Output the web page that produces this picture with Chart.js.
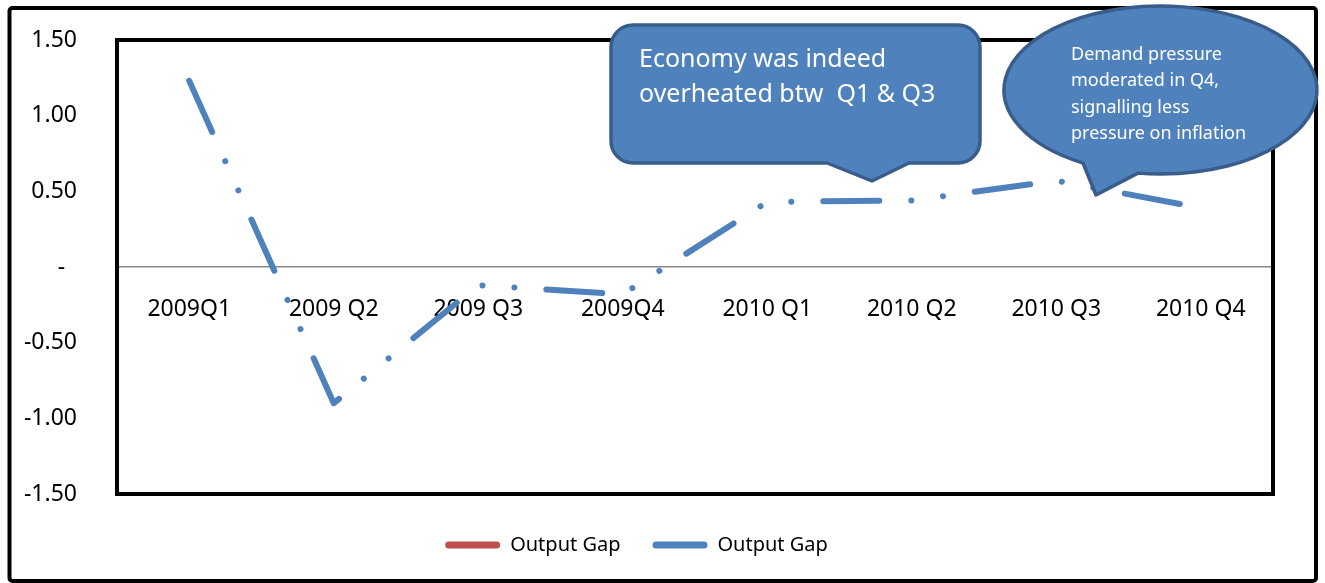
<!DOCTYPE html>
<html>
<head>
<meta charset="utf-8">
<script src="https://cdn.jsdelivr.net/npm/chart.js@4.4.1/dist/chart.umd.min.js"></script>
<style>
    html, body { margin: 0; padding: 0; background: #fff; }
    #wrap { width: 1325px; height: 583px; }
</style>
</head>
<body>
<div id="wrap"><canvas id="gapChart" width="1325" height="583"></canvas></div>
<script>
// Chart data
const quarters = ['2009Q1', '2009 Q2', '2009 Q3', '2009Q4', '2010 Q1', '2010 Q2', '2010 Q3', '2010 Q4'];
const outputGap = [1.23, -0.90, -0.12, -0.18, 0.43, 0.44, 0.57, 0.39];
const outputGapRed = []; // second series only shows up in the legend
const yMin = -1.5;
const yMax = 1.5;
const yStep = 0.5;

const callout1Lines = ['Economy was indeed', 'overheated btw  Q1 & Q3'];
const callout2Lines = ['Demand pressure', 'moderated in Q4,', 'signalling less', 'pressure on inflation'];

const BLUE = '#4F81BD';
const RED = '#C0504D';
const CALLOUT_EDGE = '#385D8A';

Chart.defaults.font.family = "'Noto Sans', sans-serif";
Chart.defaults.color = '#000';

// Outer frame + plot area frame
const framePlugin = {
    id: 'frames',
    beforeDraw(chart) {
        const ctx = chart.ctx;
        ctx.save();
        ctx.strokeStyle = '#000';
        ctx.lineWidth = 4;
        ctx.beginPath();
        ctx.roundRect(9.5, 8, 1306.5, 573, 3);
        ctx.stroke();
        ctx.restore();
    },
    beforeDatasetsDraw(chart) {
        const {ctx, chartArea} = chart;
        ctx.save();
        ctx.strokeStyle = '#000';
        ctx.lineWidth = 4;
        ctx.strokeRect(chartArea.left, chartArea.top,
            chartArea.right - chartArea.left, chartArea.bottom - chartArea.top);
        ctx.restore();
    }
};

// Speech bubbles drawn on top of everything
const calloutPlugin = {
    id: 'callouts',
    afterDraw(chart) {
        const ctx = chart.ctx;
        ctx.save();
        ctx.fillStyle = BLUE;
        ctx.strokeStyle = CALLOUT_EDGE;
        ctx.lineWidth = 3.5;
        ctx.lineJoin = 'round';

        // rounded rectangle with a tail
        const l = 611, t = 25, r = 980, b = 163, rad = 22;
        ctx.beginPath();
        ctx.moveTo(l + rad, t);
        ctx.lineTo(r - rad, t);
        ctx.arcTo(r, t, r, t + rad, rad);
        ctx.lineTo(r, b - rad);
        ctx.arcTo(r, b, r - rad, b, rad);
        ctx.lineTo(909, b);
        ctx.lineTo(872, 181);
        ctx.lineTo(827, b);
        ctx.lineTo(l + rad, b);
        ctx.arcTo(l, b, l, b - rad, rad);
        ctx.lineTo(l, t + rad);
        ctx.arcTo(l, t, l + rad, t, rad);
        ctx.closePath();
        ctx.fill();
        ctx.stroke();

        // ellipse with a tail
        const cx = 1160.5, cy = 90, rx = 156.5, ry = 84;
        const aLeft = Math.acos(-77.5 / rx);
        const aRight = Math.acos(-22.5 / rx);
        ctx.beginPath();
        ctx.ellipse(cx, cy, rx, ry, 0, aRight, aLeft, true);
        ctx.lineTo(1096, 195);
        ctx.closePath();
        ctx.fill();
        ctx.stroke();

        // texts
        ctx.fillStyle = '#fff';
        ctx.textAlign = 'left';
        ctx.textBaseline = 'middle';
        ctx.font = "25px 'Noto Sans', sans-serif";
        callout1Lines.forEach((line, i) => ctx.fillText(line, 639, 60 + i * 35));
        ctx.font = "18px 'Noto Sans', sans-serif";
        callout2Lines.forEach((line, i) => ctx.fillText(line, 1071, 54.5 + i * 26.5));
        ctx.restore();
    }
};

function createChart() {
    const ctx = document.getElementById('gapChart').getContext('2d');

    new Chart(ctx, {
        type: 'line',
        data: {
            labels: quarters,
            datasets: [{
                label: 'Output Gap',
                data: outputGapRed,
                borderColor: RED,
                backgroundColor: RED,
                borderWidth: 6,
                pointRadius: 0
            }, {
                label: 'Output Gap',
                data: outputGap,
                borderColor: BLUE,
                backgroundColor: BLUE,
                borderWidth: 6,
                borderCapStyle: 'round',
                borderJoinStyle: 'round',
                borderDash: [56, 32, 0.01, 32, 0.01, 32],
                tension: 0,
                fill: false,
                pointRadius: 0,
                pointHoverRadius: 0
            }]
        },
        options: {
            responsive: false,
            animation: false,
            layout: {
                padding: { top: 40, right: 52, bottom: 18, left: 0 }
            },
            plugins: {
                tooltip: { enabled: false },
                legend: {
                    position: 'bottom',
                    title: {
                        display: true,
                        text: '',
                        padding: 0,
                        font: { size: 9, lineHeight: 1 }
                    },
                    labels: {
                        boxWidth: 55,
                        boxHeight: 7,
                        padding: 32,
                        color: '#000',
                        useBorderRadius: true,
                        borderRadius: 3.5,
                        font: { size: 20 },
                        generateLabels: function (chart) {
                            return chart.data.datasets.map((ds, i) => ({
                                text: ds.label,
                                fillStyle: ds.borderColor,
                                strokeStyle: ds.borderColor,
                                lineWidth: 0,
                                borderRadius: 3.5,
                                hidden: false,
                                datasetIndex: i,
                                fontColor: '#000'
                            }));
                        }
                    }
                }
            },
            scales: {
                x: {
                    type: 'category',
                    position: { y: 0 },
                    offset: true,
                    grid: { display: false },
                    border: { display: true, color: '#868686', width: 1.5 },
                    ticks: {
                        color: '#000',
                        padding: 21,
                        maxRotation: 0,
                        autoSkip: false,
                        font: { size: 23 }
                    }
                },
                y: {
                    min: yMin,
                    max: yMax,
                    grid: { display: false },
                    border: { display: false },
                    afterFit: function (scale) {
                        scale.width = 117;
                        // tick padding is only meant horizontally here
                        scale.paddingTop = 14;
                        scale.paddingBottom = 14;
                    },
                    ticks: {
                        stepSize: yStep,
                        padding: 32,
                        color: '#000',
                        font: { size: 23 },
                        callback: function (value) {
                            return value === 0 ? '-  ' : value.toFixed(2);
                        }
                    }
                }
            }
        },
        plugins: [framePlugin, calloutPlugin]
    });
}

createChart();
</script>
</body>
</html>
